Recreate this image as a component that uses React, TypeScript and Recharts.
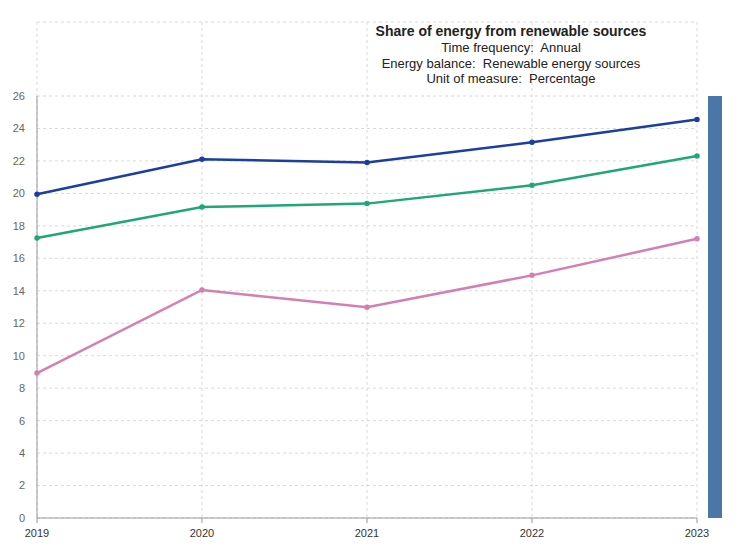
import React from 'react';
import { LineChart, Line, XAxis, YAxis, CartesianGrid, ReferenceLine } from 'recharts';

const years = ['2019', '2020', '2021', '2022', '2023'];
const blueSeries = [19.95, 22.1, 21.9, 23.15, 24.55];
const greenSeries = [17.25, 19.16, 19.37, 20.5, 22.3];
const pinkSeries = [8.93, 14.05, 12.98, 14.95, 17.2];
const yTicks = [0, 2, 4, 6, 8, 10, 12, 14, 16, 18, 20, 22, 24, 26];

const subtitles = [
  'Time frequency:  Annual',
  'Energy balance:  Renewable energy sources',
  'Unit of measure:  Percentage',
];

const data = years.map((y, i) => ({
  year: y,
  blue: blueSeries[i],
  green: greenSeries[i],
  pink: pinkSeries[i],
}));

const FONT = '"Liberation Sans", Arial, sans-serif';

export default function App() {
  return (
    <div style={{ position: 'absolute', left: 0, top: 0, width: 745, height: 560, background: '#fff', fontFamily: FONT }}>
      <LineChart
        width={745}
        height={560}
        data={data}
        margin={{ top: 22, right: 48, left: 7, bottom: 0 }}
      >
        <CartesianGrid stroke="#d9d9d9" strokeDasharray="3 3" />
        <XAxis
          dataKey="year"
          stroke="#999"
          tickLine={{ stroke: '#999' }}
          tickSize={5}
          tickMargin={6}
          height={42}
          tick={{ fill: '#333', fontSize: 11, fontFamily: FONT }}
          interval={0}
        />
        <YAxis
          type="number"
          domain={[0, 30.56]}
          ticks={yTicks}
          width={30}
          axisLine={false}
          tickLine={false}
          tickMargin={6}
          tick={{ fill: '#666', fontSize: 11, fontFamily: FONT }}
          allowDataOverflow
        />
        <ReferenceLine
          segment={[{ x: '2019', y: 0 }, { x: '2019', y: 26 }]}
          stroke="#999"
          strokeWidth={1}
        />
        <Line dataKey="pink" stroke="#d47fb3" strokeWidth={2.5} dot={{ r: 1.5, fill: '#d47fb3', stroke: '#d47fb3' }} isAnimationActive={false} />
        <Line dataKey="green" stroke="#1fa77a" strokeWidth={2.5} dot={{ r: 1.5, fill: '#1fa77a', stroke: '#1fa77a' }} isAnimationActive={false} />
        <Line dataKey="blue" stroke="#1a3fa0" strokeWidth={2.5} dot={{ r: 1.5, fill: '#1a3fa0', stroke: '#1a3fa0' }} isAnimationActive={false} />
      </LineChart>
      <div style={{ position: 'absolute', left: 708, top: 96, width: 14, height: 422, background: '#4a76a8' }} />
      <div style={{ position: 'absolute', left: 311, width: 400, top: 23, textAlign: 'center', color: '#222' }}>
        <div style={{ fontSize: 14, fontWeight: 'bold', lineHeight: '17px' }}>Share of energy from renewable sources</div>
        {subtitles.map((s) => (
          <div key={s} style={{ fontSize: 13, lineHeight: '15.5px', whiteSpace: 'pre' }}>{s}</div>
        ))}
      </div>
    </div>
  );
}
